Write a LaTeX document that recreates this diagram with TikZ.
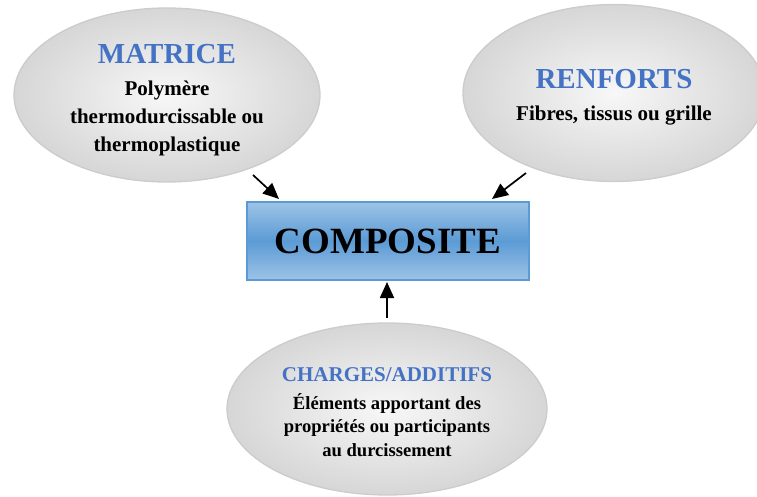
\documentclass[tikz,border=0pt]{standalone}
\usepackage{fontspec}
\setmainfont{Liberation Serif}
\usetikzlibrary{shapes.geometric,arrows.meta}
\definecolor{titleblue}{RGB}{68,114,196}
\definecolor{boxedge}{RGB}{91,155,213}
\definecolor{boxlight}{RGB}{157,195,230}
\definecolor{boxmid}{RGB}{91,155,213}
\tikzset{
  bubble/.style={ellipse, draw=gray!40, line width=1.3pt, inner color=gray!6, outer color=gray!32, inner sep=0pt},
  bubtext/.style={align=center, inner sep=0pt},
  compbox/.style={rectangle, draw=boxedge, line width=1.6pt, top color=boxlight, bottom color=boxlight, middle color=boxmid, inner sep=0pt, minimum width=282pt, minimum height=78pt, font=\bfseries\fontsize{37}{40}\selectfont},
  arr/.style={-{Triangle[length=16pt,width=14pt]}, line width=1.7pt, black}
}
\newcommand{\titlef}{\bfseries\fontsize{29}{30}\selectfont\color{titleblue}}
\newcommand{\bodyf}{\bfseries\fontsize{21}{28}\selectfont\color{black}}
\begin{document}
\begin{tikzpicture}[x=1pt,y=-1pt]
\useasboundingbox (0,0) rectangle (757,497);
\node[bubble, minimum width=306pt, minimum height=174pt] (mat) at (167,95) {};
\node[bubtext, font=\bfseries\fontsize{21}{28}\selectfont] (matT) at (167,100.5)
  {\titlef MATRICE\\[4pt]\bodyf Polymère\\ \bodyf thermodurcissable ou\\ \bodyf thermoplastique};
\node[bubble, minimum width=302pt, minimum height=177pt] (ren) at (614,93) {};
\node[bubtext, font=\bfseries\fontsize{21}{28}\selectfont] (renT) at (614,97)
  {\titlef RENFORTS\\[3.5pt]\bodyf Fibres, tissus ou grille};
\node[bubble, minimum width=320pt, minimum height=172pt] (cha) at (387,409) {};
\node[bubtext, font=\bfseries\fontsize{18.6}{23.5}\selectfont] (chaT) at (387,412)
  {{\bfseries\fontsize{21}{24}\selectfont\color{titleblue}CHARGES/ADDITIFS}\\[4.5pt]Éléments apportant des\\ propriétés ou participants\\ au durcissement};
\node[compbox] (comp) at (388,241) {COMPOSITE};
\coordinate (a1s) at (253,175);
\coordinate (a1e) at (279,199);
\coordinate (a2s) at (526,173);
\coordinate (a2e) at (492,199);
\coordinate (a3s) at (387,318);
\coordinate (a3e) at (387,282);
\draw[arr] (a1s) -- (a1e);
\draw[arr] (a2s) -- (a2e);
\draw[arr] (a3s) -- (a3e);
\end{tikzpicture}
\end{document}
